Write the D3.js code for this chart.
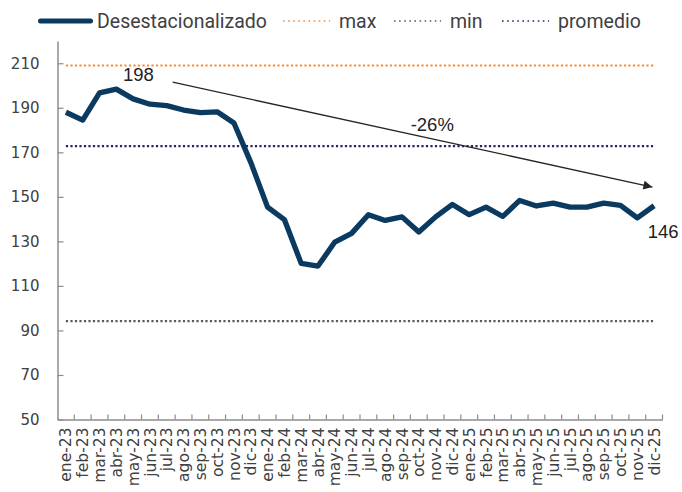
<!DOCTYPE html>
<html>
<head>
<meta charset="utf-8">
<script src="https://cdn.jsdelivr.net/npm/d3@7.9.0/dist/d3.min.js"></script>
<style>
  body { margin: 0; background: #fff; }
  svg { display: block; }
</style>
</head>
<body>
<svg id="chart" width="682" height="492"></svg>
<script>
// month labels
const categories = [
  "ene-23","feb-23","mar-23","abr-23","may-23","jun-23","jul-23","ago-23","sep-23","oct-23","nov-23","dic-23",
  "ene-24","feb-24","mar-24","abr-24","may-24","jun-24","jul-24","ago-24","sep-24","oct-24","nov-24","dic-24",
  "ene-25","feb-25","mar-25","abr-25","may-25","jun-25","jul-25","ago-25","sep-25","oct-25","nov-25","dic-25"
];

// seasonally adjusted series
const desestacionalizado = [
  188, 184.5, 196.7, 198.4, 194, 191.6, 191, 189, 187.8, 188.2, 183.2, 165.5,
  145.4, 139.8, 120.1, 118.9, 129.7, 133.6, 142, 139.4, 141, 134.2, 141, 146.6,
  142, 145.4, 141.2, 148.4, 145.9, 147.2, 145.4, 145.4, 147.2, 146.2, 140.6, 146
];

const maxValue = 209;
const minValue = 94.2;
const promedioValue = 172.8;

const yTicks = [50, 70, 90, 110, 130, 150, 170, 190, 210];

// annotations
const labelPoints = [
  { cat: "abr-23", text: "198" },
  { cat: "dic-25", text: "146" }
];
const trendArrow = { from: { idx: 6.35, value: 201.5 }, to: { idx: 34.9, value: 154.4 } };
const trendText = "-26%";
const trendTextPos = { idx: 21.8, value: 182.5 };

const svg = d3.select("#chart");

const x = d3.scaleBand()
  .domain(categories)
  .range([57.5, 662.5])
  .padding(0);

const y = d3.scaleLinear()
  .domain([50, 220])
  .range([419.5, 41]);

const xc = d => x(d) + x.bandwidth() / 2;
const xi = i => x.range()[0] + x.step() * (i + 0.5);

const axisColor = "#8c8c8c";

// y axis
const yAxis = svg.append("g")
  .attr("transform", `translate(${x.range()[0]},0)`)
  .call(d3.axisLeft(y).tickValues(yTicks).tickSizeInner(-6).tickSizeOuter(0).tickPadding(18));
yAxis.select(".domain").attr("stroke", axisColor).attr("stroke-width", 1.5);
yAxis.selectAll(".tick line").attr("stroke", axisColor).attr("stroke-width", 1.2);
yAxis.selectAll(".tick text")
  .attr("font-family", "DejaVu Sans")
  .attr("font-size", 15)
  .attr("fill", "#404040");

// x axis (labels at band centres, ticks at band edges)
const xAxis = svg.append("g")
  .attr("transform", `translate(0,${y(50)})`)
  .call(d3.axisBottom(x).tickSize(0).tickSizeOuter(0));
xAxis.select(".domain").attr("stroke", axisColor).attr("stroke-width", 1.5);
xAxis.selectAll(".tick text")
  .attr("font-family", "DejaVu Sans")
  .attr("font-size", 15.5)
  .attr("fill", "#404040")
  .attr("transform", "rotate(-90)")
  .attr("text-anchor", "end")
  .attr("x", -8)
  .attr("y", 0)
  .attr("dy", "0.36em");

const edges = categories.map(c => x(c) + x.step());
xAxis.selectAll(".edge")
  .data(edges)
  .join("line")
  .attr("class", "edge")
  .attr("x1", d => d).attr("x2", d => d)
  .attr("y1", 0).attr("y2", -5)
  .attr("stroke", axisColor)
  .attr("stroke-width", 1.2);

// reference lines
const refs = [
  { name: "max", value: maxValue, color: "#f28b3b" },
  { name: "min", value: minValue, color: "#5a5a5a" },
  { name: "promedio", value: promedioValue, color: "#242466" }
];

const line = d3.line()
  .x((d, i) => xc(categories[i]))
  .y(d => y(d));

refs.forEach(r => {
  svg.append("path")
    .datum(categories.map(() => r.value))
    .attr("d", line)
    .attr("fill", "none")
    .attr("stroke", r.color)
    .attr("stroke-width", 2.2)
    .attr("stroke-dasharray", "2.2 2.3");
});

// main series
svg.append("path")
  .datum(desestacionalizado)
  .attr("d", line)
  .attr("fill", "none")
  .attr("stroke", "#0b3a61")
  .attr("stroke-width", 5.3)
  .attr("stroke-linejoin", "round")
  .attr("stroke-linecap", "butt");

// arrow
svg.append("defs").append("marker")
  .attr("id", "arrowhead")
  .attr("viewBox", "0 0 10 10")
  .attr("refX", 10).attr("refY", 5)
  .attr("markerWidth", 11).attr("markerHeight", 9)
  .attr("markerUnits", "userSpaceOnUse")
  .attr("orient", "auto")
  .append("path")
  .attr("d", "M0,0 L10,5 L0,10 Z")
  .attr("fill", "#262626");

svg.append("line")
  .attr("x1", xi(trendArrow.from.idx)).attr("y1", y(trendArrow.from.value))
  .attr("x2", xi(trendArrow.to.idx)).attr("y2", y(trendArrow.to.value))
  .attr("stroke", "#262626")
  .attr("stroke-width", 1.3)
  .attr("marker-end", "url(#arrowhead)");

svg.append("text")
  .attr("x", xi(trendTextPos.idx))
  .attr("y", y(trendTextPos.value))
  .attr("text-anchor", "middle")
  .attr("dy", "0.35em")
  .attr("font-family", "Liberation Sans")
  .attr("font-size", 18.5)
  .attr("fill", "#222")
  .text(trendText);

// point labels
const idxOf = c => categories.indexOf(c);
svg.append("text")
  .attr("x", xc(labelPoints[0].cat) + 22)
  .attr("y", y(desestacionalizado[idxOf(labelPoints[0].cat)]) - 8)
  .attr("text-anchor", "middle")
  .attr("font-family", "Liberation Sans")
  .attr("font-size", 18.5)
  .attr("fill", "#222")
  .text(labelPoints[0].text);

svg.append("text")
  .attr("x", xc(labelPoints[1].cat) + 9)
  .attr("y", y(desestacionalizado[idxOf(labelPoints[1].cat)]) + 32)
  .attr("text-anchor", "middle")
  .attr("font-family", "Liberation Sans")
  .attr("font-size", 18.5)
  .attr("fill", "#222")
  .text(labelPoints[1].text);

// legend
const legendItems = [
  { name: "Desestacionalizado", color: "#0b3a61", dotted: false, start: 38 },
  { name: "max", color: "#f28b3b", dotted: true, start: 283 },
  { name: "min", color: "#5a5a5a", dotted: true, start: 394 },
  { name: "promedio", color: "#242466", dotted: true, start: 502 }
];
const legend = svg.append("g").attr("transform", "translate(0,21)");
legendItems.forEach(it => {
  const len = it.dotted ? 47 : 55;
  legend.append("line")
    .attr("x1", it.start + (it.dotted ? 0 : 2.5)).attr("x2", it.start + len - (it.dotted ? 0 : 2.5))
    .attr("y1", 0).attr("y2", 0)
    .attr("stroke", it.color)
    .attr("stroke-width", it.dotted ? 1.6 : 5)
    .attr("stroke-linecap", it.dotted ? "butt" : "round")
    .attr("stroke-dasharray", it.dotted ? "1.6 3.5" : null);
  legend.append("text")
    .attr("x", it.start + len + (it.dotted ? 9 : 4))
    .attr("y", 0)
    .attr("dy", "0.36em")
    .attr("font-family", "Roboto")
    .attr("font-size", 19.5)
    .attr("fill", "#404040")
    .text(it.name);
});
</script>
</body>
</html>
